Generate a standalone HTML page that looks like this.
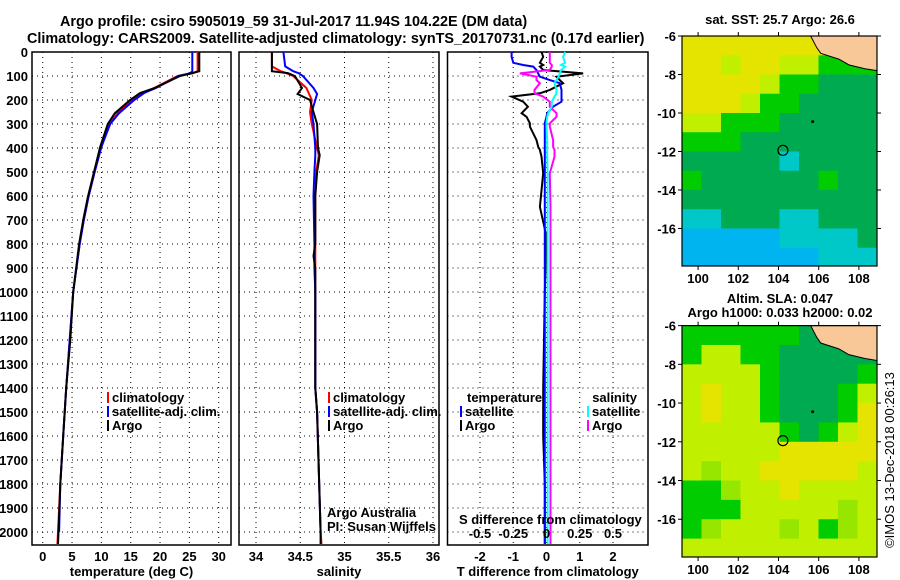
<!DOCTYPE html>
<html><head><meta charset="utf-8"><style>
body{margin:0;background:#fff}
svg{display:block;font-family:"Liberation Sans",sans-serif}
.b{font-weight:bold;font-size:14.4px}
.t{font-weight:bold;font-size:13px}
</style></head><body>
<svg id="s" width="900" height="580" viewBox="0 0 900 580">
<text class="b" x="60" y="26">Argo profile: csiro 5905019_59 31-Jul-2017 11.94S 104.22E (DM data)</text>
<text class="b" x="27" y="43">Climatology: CARS2009. Satellite-adjusted climatology: synTS_20170731.nc (0.17d earlier)</text>
<text class="t" x="780" y="24" text-anchor="middle">sat. SST: 25.7 Argo: 26.6</text>
<text class="t" x="780" y="303" text-anchor="middle">Altim. SLA: 0.047</text>
<text class="t" x="780" y="317" text-anchor="middle">Argo h1000: 0.033 h2000: 0.02</text>
<text x="894" y="460" font-size="13" text-anchor="middle" transform="rotate(-90 894 460)">©IMOS 13-Dec-2018 00:26:13</text>
</svg>
<script>
const depthT=[0,80,88,100,150,171,200,255,300,395,505,603,700,800,1000,1200,1400,1600,1800,2000,2050];
const argoT=[26.7,26.7,25.5,23.4,19.1,16.6,14.9,12.3,11.1,9.8,8.7,7.7,6.9,6.2,5.2,4.7,4.0,3.5,3.0,2.7,2.6];
const climT=[26.4,26.4,25.6,23.0,19.0,17.0,15.3,12.8,11.4,10.0,8.8,7.8,7.0,6.3,5.2,4.6,4.0,3.5,3.0,2.6,2.5];
const satT=[25.5,25.5,25.2,23.2,19.3,17.3,15.6,13.0,11.5,10.0,8.8,7.8,7.0,6.3,5.2,4.6,4.0,3.5,3.0,2.8];
const depthS=[0,60,80,88,100,150,175,200,250,300,400,430,500,600,800,850,900,1000,1400,1500,2000,2050];
const argoS=[34.18,34.18,34.18,34.36,34.44,34.52,34.47,34.61,34.65,34.69,34.70,34.72,34.69,34.67,34.67,34.65,34.67,34.67,34.67,34.69,34.73,34.73];
const climS=[34.18,34.18,34.28,34.34,34.42,34.57,34.60,34.63,34.61,34.63,34.69,34.71,34.68,34.67,34.67,34.67,34.67,34.67,34.67,34.69,34.73,34.74];
const satS=[34.31,34.33,34.42,34.48,34.53,34.65,34.69,34.67,34.63,34.65,34.67,34.67,34.66,34.65,34.66,34.66,34.66,34.67,34.67,34.69,34.73];
const depthD=[0,20,45,54,61,75,89,103,117,130,158,172,186,207,228,255,270,297,311,367,395,408,436,505,645,770,1000,1400,1600,1800,2000,2050];
const argoDT=[-0.15,-0.1,-0.2,-0.1,-0.2,-0.1,1.1,0.3,0.4,0.5,0.1,-0.2,-1.05,-0.7,-0.56,-0.75,-0.6,-0.5,-0.5,-0.3,-0.25,-0.2,-0.15,-0.1,-0.2,0,-0.05,-0.1,-0.1,-0.05,-0.05,-0.05];
const satDT=[-1.05,-1.05,-1.0,-0.7,-0.4,-0.3,-0.25,-0.2,0.1,0.4,0.45,0.45,0.45,0.45,0.2,0.02,0,-0.05,-0.05,-0.05,-0.05,-0.05,-0.05,-0.05,-0.05,-0.05,-0.05,-0.05,-0.05,-0.05,-0.05,-0.05];
const argoDS=[0.025,0.025,0.025,0.04,0.04,0.025,-0.2,-0.075,-0.075,-0.05,-0.09,-0.09,-0.025,0.025,0.025,0.075,0.075,0.025,0.025,0.05,0.05,0.06,0.06,0.025,0.03,0.03,0.03,0.03,0.03,0.03,0.03,0.03];
const satDS=[0.14,0.125,0.14,0.11,0.14,0.11,0.1,0.09,0.075,0.06,0.075,0.075,0.06,0.04,0.04,0.012,0.005,0,0,0.005,0.005,0.005,0.005,0.008,0.008,0.008,0.008,0.008,0.008,0.008,0.008,0.008];
const depthTicks=[0,100,200,300,400,500,600,700,800,900,1000,1100,1200,1300,1400,1500,1600,1700,1800,1900,2000];
const tTicks=[0,5,10,15,20,25,30];
const sTicks=[34,34.5,35,35.5,36];
const dTicks=[-2,-1,0,1,2];
const sdTickLabels=["-0.5","-0.25","0","0.25","0.5"];
const sdTickVals=[-0.5,-0.25,0,0.25,0.5];
const lonTicks=[100,102,104,106,108];
const latTicks=[-6,-8,-10,-12,-14,-16];
const sstGrid=["YYYYYYYYYY","YYLYYLLGGG","YYYYLGGDDD","YYYLGGDDDD","LLGGGDDDDD","GGGDDDDDDD","DDDDDCDDDD","GDDDDDDGDD","DDDDDDDDDD","CCDDDCCDDD","BBBBBCCCCD","BBBBBBBCCC"];
const slaGrid=["GGGGGGDDDD","GLLGGDDDDD","LLLLGDDDDG","LYLLGDDDGL","LYLLGDDDGY","LLLLLGDGLY","LLLLLYYYYY","LMLLYYYYYL","GGMLLYLLLL","GGGLLLLLML","GMLLLMLGML","LLLLLLLLLL"];
const palette={Y:"#e4e400",L:"#c0f000",M:"#96e600",G:"#00cc00",D:"#00aa50",C:"#00c8c8",B:"#00b4f0",K:"#0000f0"};
const landLon=[105.6,105.9,106.1,107.0,107.5,108.3,108.9,109.3,109.3];
const landLat=[-6.0,-6.6,-6.9,-7.2,-7.5,-7.7,-7.8,-7.9,-6.0];
const profLon=104.22, profLat=-11.94;

const NS="http://www.w3.org/2000/svg", svg=document.getElementById('s');
function mk(tag,attrs,parent){const e=document.createElementNS(NS,tag);for(const k in attrs)e.setAttribute(k,attrs[k]);(parent||svg).appendChild(e);return e;}
const Y0=52,Y1=545,yD=d=>Y0+d*0.24;
const panels=[
 {x0:32,x1:231,v0:0,v1:30,vpx0:42.7,vpx1:218.7,ticks:tTicks,title:"temperature (deg C)",name:"temperature"},
 {x0:239,x1:439,v0:34,v1:36,vpx0:256,vpx1:433,ticks:sTicks,title:"salinity",name:"salinity"},
 {x0:447.5,x1:648,v0:-2,v1:2,vpx0:480,vpx1:613,ticks:dTicks,title:"T difference from climatology",name:"difference"}];
panels.forEach(p=>{p.sx=v=>p.vpx0+(v-p.v0)*(p.vpx1-p.vpx0)/(p.v1-p.v0);});
panels.forEach((p,pi)=>{
 const g=mk('g',{});
 
 
 depthTicks.forEach(d=>{
  const l=mk('line',{x1:p.x0,x2:p.x1,y1:yD(d),y2:yD(d),stroke:'#000','stroke-width':1,'stroke-dasharray':'1,4'},g);
  
  
  if(pi==0){const t=mk('text',{x:28,y:yD(d)+5,'text-anchor':'end',class:'t'},g);t.textContent=d;
   
   }
 });
 p.ticks.forEach(v=>{
  const l=mk('line',{x1:p.sx(v),x2:p.sx(v),y1:Y0,y2:Y1,stroke:'#000','stroke-width':1,'stroke-dasharray':'1,4'},g);
  
  
  const t=mk('text',{x:p.sx(v),y:561,'text-anchor':'middle',class:'t'},g);t.textContent=v;
  
  
 });
 const r=mk('rect',{x:p.x0,y:Y0,width:p.x1-p.x0,height:Y1-Y0,fill:'none',stroke:'#000','stroke-width':1.5},g);
 
 
 const t=mk('text',{x:(p.x0+p.x1)/2,y:576,'text-anchor':'middle',class:'t'},g);t.textContent=p.title;
 
 
});
function line(p,depths,vals,col,name,scale){
 let pts=vals.map((v,i)=>p.sx(v*(scale||1)).toFixed(1)+','+yD(depths[i]).toFixed(1)).join(' ');
 const e=mk('polyline',{points:pts,fill:'none',stroke:col,'stroke-width':2});
 
 
}
line(panels[0],depthT,climT,'#f00','temp-climatology-line');
line(panels[0],depthT,satT,'#00f','temp-satellite-line');
line(panels[0],depthT,argoT,'#000','temp-argo-line');
line(panels[1],depthS,climS,'#f00','sal-climatology-line');
line(panels[1],depthS,satS,'#00f','sal-satellite-line');
line(panels[1],depthS,argoS,'#000','sal-argo-line');
line(panels[2],depthD,argoDT,'#000','tdiff-argo-line');
line(panels[2],depthD,satDT,'#00f','tdiff-satellite-line');
line(panels[2],depthD,argoDS,'#f0f','sdiff-argo-line',4);
line(panels[2],depthD,satDS,'#0ff','sdiff-satellite-line',4);
function txt(x,y,s,cls,name,anchor,size){const t=mk('text',{x:x,y:y,class:cls||'t','text-anchor':anchor||'start'});if(size)t.setAttribute('font-size',size);t.textContent=s;
 
 return t;}
function leg(x,y,col,label,name){
 const m=mk('rect',{x:x,y:y-10,width:2,height:11,fill:col});
 
 
 txt(x+5,y,label,'t',name);
}
[[107,'#f00','climatology'],[107,'#00f','satellite-adj. clim.'],[107,'#000','Argo']].forEach((a,i)=>leg(a[0],402+i*14,a[1],a[2],'temp-legend-entry'));
[[328,'#f00','climatology'],[328,'#00f','satellite-adj. clim.'],[328,'#000','Argo']].forEach((a,i)=>leg(a[0],402+i*14,a[1],a[2],'sal-legend-entry'));
txt(467,402,'temperature','t','diff-legend-temp-heading');
txt(637,402,'salinity','t','diff-legend-sal-heading','end');
leg(460,416,'#00f','satellite','diff-legend-temp-satellite');
leg(460,430,'#000','Argo','diff-legend-temp-argo');
leg(587,416,'#0ff','satellite','diff-legend-sal-satellite');
leg(587,430,'#f0f','Argo','diff-legend-sal-argo');
txt(327,517,'Argo Australia','','credit-argo-australia','start',13).setAttribute('font-weight','normal');
txt(327,531,'PI: Susan Wijffels','','credit-pi','start',13).setAttribute('font-weight','normal');
txt(459,524,'S difference from climatology','t','s-diff-axis-title');
sdTickVals.forEach((v,i)=>txt(panels[2].sx(v*4),538,sdTickLabels[i],'t','s-diff-tick-label','middle'));
function drawMap(top,bot,grid,name){
 const L=682,R=877,lon0=99.2,lon1=108.9;
 const sx=lon=>L+(lon-lon0)*(R-L)/(lon1-lon0);
 const degPx=(bot-top)/11.95;
 const sy=lat=>top+(-6-lat)*degPx;
 const g=mk('g',{});
 
 
 const cid=name+'-clip';const cp=mk('clipPath',{id:cid},g);mk('rect',{x:L,y:top,width:R-L,height:bot-top},cp);
 const gg=mk('g',{'clip-path':'url(#'+cid+')'},g);
 grid.forEach((row,ri)=>{[...row].forEach((c,ci)=>{
  const x=sx(lon0+ci*(lon1-lon0)/10),y=sy(-6-ri);
  const r=mk('rect',{x:x,y:y,width:(R-L)/10+0.5,height:degPx+0.5,fill:palette[c]},gg);
  
  
 });});
 const pts=landLon.map((lo,i)=>sx(lo)+','+sy(landLat[i])).join(' ');
 const land=mk('polygon',{points:pts,fill:'#f8c898',stroke:'#000','stroke-width':1},gg);
 
 
 const c=mk('circle',{cx:sx(profLon),cy:sy(profLat),r:5,fill:'none',stroke:'#000','stroke-width':1.2},g);
 
 
 const st=mk('circle',{cx:sx(105.7),cy:sy(-10.45),r:1.5,fill:'#000'},g);
 
 
 const f=mk('rect',{x:L,y:top,width:R-L,height:bot-top,fill:'none',stroke:'#000','stroke-width':1.2},g);
 
 
 lonTicks.forEach(lo=>{mk('line',{x1:sx(lo),x2:sx(lo),y1:bot,y2:bot+4,stroke:'#000'},g);mk('line',{x1:sx(lo),x2:sx(lo),y1:top,y2:top-4,stroke:'#000'},g);
  txt(sx(lo),bot+17,lo,'t','map-lon-tick-label','middle');});
 latTicks.forEach(la=>{mk('line',{x1:L-4,x2:L,y1:sy(la),y2:sy(la),stroke:'#000'},g);mk('line',{x1:R,x2:R+4,y1:sy(la),y2:sy(la),stroke:'#000'},g);
  txt(L-6,sy(la)+5,la,'t','map-lat-tick-label','end');});
}
drawMap(36,266,sstGrid,'sst-map');
drawMap(325.6,557,slaGrid,'sla-map');
</script>
</body></html>
